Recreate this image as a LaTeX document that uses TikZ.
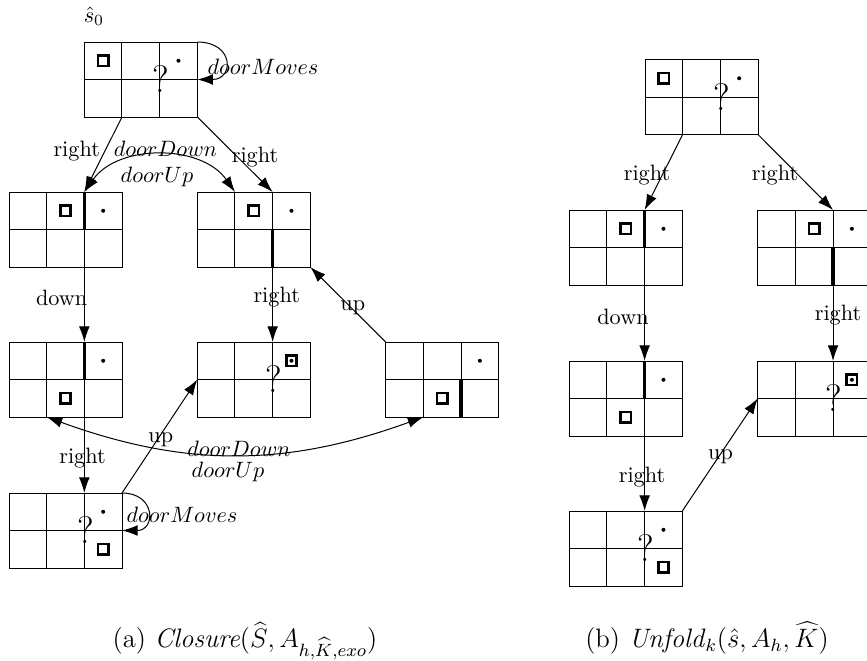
\documentclass[tikz,border=0pt]{standalone}
\usetikzlibrary{arrows.meta,calc}
\tikzset{
  x=0.45pt, y=-0.45pt,
  gridbox/.style={draw, line width=0.45pt, rectangle, minimum width=50.85pt, minimum height=33.75pt, inner sep=0pt, outer sep=0pt, anchor=north west},
  gridline/.style={line width=0.45pt},
  door/.style={line width=1.5pt},
  sqmark/.style={line width=1.2pt},
  conn/.style={-{Latex[length=7pt,width=4.8pt]}, line width=0.45pt},
  biconn/.style={{Latex[length=7pt,width=4.8pt]}-{Latex[length=7pt,width=4.8pt]}, line width=0.45pt},
  lbl/.style={inner sep=0pt},
  caplbl/.style={inner sep=0pt, anchor=base, font=\large},
  qmark/.style={font=\LARGE, inner sep=0pt},
}
\newcommand\mkgrid[3]{%
  \node[gridbox] (#1) at (#2,#3) {};
  \coordinate (#1-t1) at ($(#1.north west)!1/3!(#1.north east)$);
  \coordinate (#1-t2) at ($(#1.north west)!2/3!(#1.north east)$);
  \coordinate (#1-b1) at ($(#1.south west)!1/3!(#1.south east)$);
  \coordinate (#1-b2) at ($(#1.south west)!2/3!(#1.south east)$);
  \draw[gridline] (#1-t1) -- (#1-b1) (#1-t2) -- (#1-b2) (#1.west) -- (#1.east);
}
\newcommand\gsq[2]{\draw[sqmark] ({18.83+37.67*#1-5.2},{18.75+37.5*#2-5.2}) rectangle ++(10.4,10.4);}
\newcommand\gdot[2]{\fill ({18.83+37.67*#1},{18.75+37.5*#2}) circle (2);}
\newcommand\gdoor[1]{\draw[door] (75.33,{37.5*#1}) -- (75.33,{37.5*#1+37.5});}
\newcommand\gq[1]{\node[qmark] (#1) at (76.5,37.5) {?};}
\begin{document}
\begin{tikzpicture}
\useasboundingbox (0,0) rectangle (867,660);

% ---------- left panel grids ----------
\mkgrid{s0}{84.3}{42}
\begin{scope}[shift={(84.3,42)}] \gsq{0}{0} \gdot{2}{0} \gq{s0q} \end{scope}
\mkgrid{g1}{9}{192}
\begin{scope}[shift={(9,192)}] \gsq{1}{0} \gdot{2}{0} \gdoor{0} \end{scope}
\mkgrid{g2}{197.3}{192}
\begin{scope}[shift={(197.3,192)}] \gsq{1}{0} \gdot{2}{0} \gdoor{1} \end{scope}
\mkgrid{g3}{9}{342}
\begin{scope}[shift={(9,342)}] \gsq{1}{1} \gdot{2}{0} \gdoor{0} \end{scope}
\mkgrid{g4}{197.3}{342}
\begin{scope}[shift={(197.3,342)}] \gsq{2}{0} \gdot{2}{0} \gq{g4q} \end{scope}
\mkgrid{g5}{385.7}{342}
\begin{scope}[shift={(385.7,342)}] \gsq{1}{1} \gdot{2}{0} \gdoor{1} \end{scope}
\mkgrid{g6}{9}{493}
\begin{scope}[shift={(9,493)}] \gsq{2}{1} \gdot{2}{0} \gq{g6q} \end{scope}

% ---------- right panel grids ----------
\mkgrid{r0}{645}{59.5}
\begin{scope}[shift={(645,59.5)}] \gsq{0}{0} \gdot{2}{0} \gq{r0q} \end{scope}
\mkgrid{r1}{569.3}{210}
\begin{scope}[shift={(569.3,210)}] \gsq{1}{0} \gdot{2}{0} \gdoor{0} \end{scope}
\mkgrid{r2}{757.7}{210}
\begin{scope}[shift={(757.7,210)}] \gsq{1}{0} \gdot{2}{0} \gdoor{1} \end{scope}
\mkgrid{r3}{569.3}{361}
\begin{scope}[shift={(569.3,361)}] \gsq{1}{1} \gdot{2}{0} \gdoor{0} \end{scope}
\mkgrid{r4}{757.7}{361}
\begin{scope}[shift={(757.7,361)}] \gsq{2}{0} \gdot{2}{0} \gq{r4q} \end{scope}
\mkgrid{r5}{569.3}{511}
\begin{scope}[shift={(569.3,511)}] \gsq{2}{1} \gdot{2}{0} \gq{r5q} \end{scope}

% ---------- left connectors ----------
\draw[conn] (s0-b1) -- (g1-t2);
\draw[conn] (s0.south east) -- (g2-t2);
\draw[biconn] (g1-t2) to[bend left=55] (g2-t1);
\draw[conn] (g1-b2) -- (g3-t2);
\draw[conn] (g2-b2) -- (g4-t2);
\draw[conn] (g5.north west) -- (g2.south east);
\draw[conn] (g3-b2) -- (g6-t2);
\draw[conn] (g6.north east) -- (g4.west);
\draw[biconn] (g3-b1) to[bend right=20] (g5-b1);
\draw[conn] (s0.north east) .. controls +(37,0) and +(37,0) .. (s0.east);
\draw[conn] (g6.north east) .. controls +(34,0) and +(34,0) .. (g6.east);

% ---------- right connectors ----------
\draw[conn] (r0-b1) -- (r1-t2);
\draw[conn] (r0.south east) -- (r2-t2);
\draw[conn] (r1-b2) -- (r3-t2);
\draw[conn] (r2-b2) -- (r4-t2);
\draw[conn] (r3-b2) -- (r5-t2);
\draw[conn] (r5.north east) -- (r4.west);

% ---------- labels ----------
\node[lbl] (s0lab) at (94,16.5) {$\hat{s}_0$};
\node[lbl] (la1) at (76.7,151) {right};
\node[lbl] (la2) at (255,157) {right};
\node[lbl] (la3) at (165.5,149) {$doorDown$};
\node[lbl] (la4) at (157,176.5) {$doorUp$};
\node[lbl] (la5) at (263,66.5) {$doorMoves$};
\node[lbl] (la6) at (61.7,298) {down};
\node[lbl] (la7) at (276.7,297) {right};
\node[lbl] (la8) at (352.8,308) {up};
\node[lbl] (la9) at (160.8,439.5) {up};
\node[lbl] (la10) at (82.5,458) {right};
\node[lbl] (la11) at (239,449) {$doorDown$};
\node[lbl] (la12) at (228,471.5) {$doorUp$};
\node[lbl] (la13) at (182,514.7) {$doorMoves$};

\node[lbl] (lb1) at (647,175) {right};
\node[lbl] (lb2) at (775,175) {right};
\node[lbl] (lb3) at (623,317) {down};
\node[lbl] (lb4) at (838,315) {right};
\node[lbl] (lb5) at (642,477.5) {right};
\node[lbl] (lb6) at (720.5,457) {up};

% ---------- captions ----------
\node[caplbl] (capa) at (245,647) {(a) \textit{Closure}$(\widehat{S}, A_{h,\widehat{K},exo})$};
\node[caplbl] (capb) at (707,647) {(b) \textit{Unfold}$_k(\hat{s}, A_h, \widehat{K})$};
\end{tikzpicture}
\end{document}
